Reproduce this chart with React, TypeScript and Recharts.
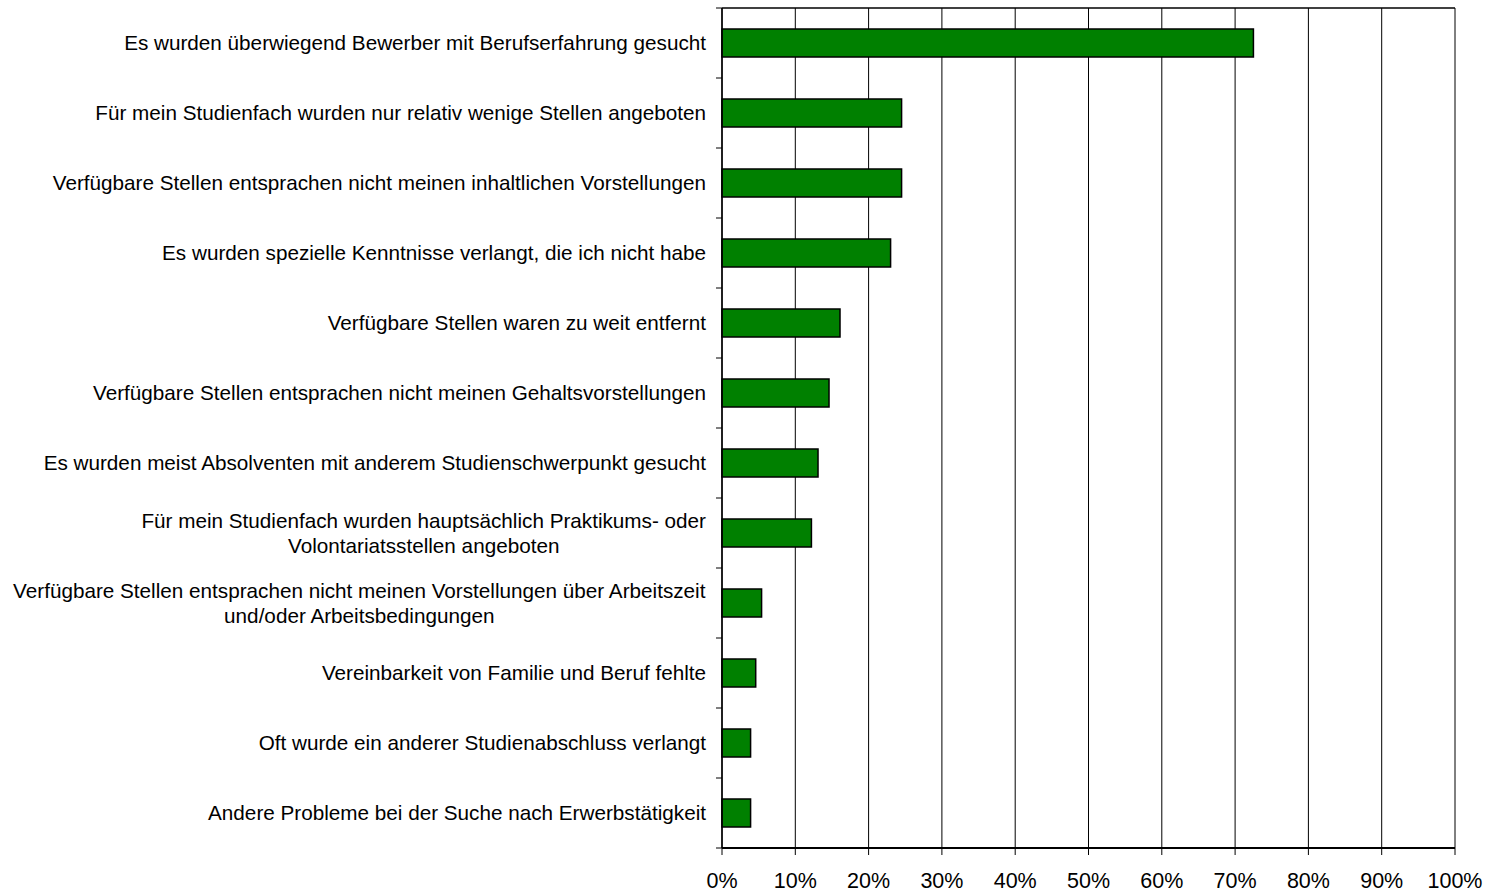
import React from "react";
import { BarChart, Bar, XAxis, YAxis, CartesianGrid } from "recharts";

const categories: string[] = [
  "Es wurden überwiegend Bewerber mit Berufserfahrung gesucht",
  "Für mein Studienfach wurden nur relativ wenige Stellen angeboten",
  "Verfügbare Stellen entsprachen nicht meinen inhaltlichen Vorstellungen",
  "Es wurden spezielle Kenntnisse verlangt, die ich nicht habe",
  "Verfügbare Stellen waren zu weit entfernt",
  "Verfügbare Stellen entsprachen nicht meinen Gehaltsvorstellungen",
  "Es wurden meist Absolventen mit anderem Studienschwerpunkt gesucht",
  "Für mein Studienfach wurden hauptsächlich Praktikums- oder\nVolontariatsstellen angeboten",
  "Verfügbare Stellen entsprachen nicht meinen Vorstellungen über Arbeitszeit\nund/oder Arbeitsbedingungen",
  "Vereinbarkeit von Familie und Beruf fehlte",
  "Oft wurde ein anderer Studienabschluss verlangt",
  "Andere Probleme bei der Suche nach Erwerbstätigkeit",
];

const values: number[] = [72.5, 24.5, 24.5, 23.0, 16.1, 14.6, 13.1, 12.2, 5.4, 4.6, 3.9, 3.9];

const xTicks: number[] = [0, 10, 20, 30, 40, 50, 60, 70, 80, 90, 100];

const data = categories.map((label, i) => ({ label, value: values[i] }));

const W = 1490;
const H = 892;
const TOP_AXIS_H = 1;
const MARGIN = { top: 7, right: 35, bottom: 0, left: 0 };
const YAXIS_W = 722;
const XAXIS_H = 44;
const FONT = '"Liberation Sans", Arial, Helvetica, sans-serif';
const LABEL_SIZE = 20.7;
const AXIS_X = MARGIN.left + YAXIS_W;
const BAND = (H - MARGIN.top - TOP_AXIS_H - MARGIN.bottom - XAXIS_H) / categories.length;

let ctx: CanvasRenderingContext2D | null = null;
function measure(text: string): number {
  if (!ctx) {
    const c = document.createElement("canvas");
    ctx = c.getContext("2d");
  }
  if (!ctx) return text.length * LABEL_SIZE * 0.5;
  ctx.font = `${LABEL_SIZE}px ${FONT}`;
  return ctx.measureText(text).width;
}

const CategoryTick = (props: any) => {
  const { y, payload, index } = props;
  const lines: string[] = String(payload.value).split("\n");
  const right = AXIS_X - 16;
  const maxW = Math.max(...lines.map(measure));
  const cx = right - maxW / 2;
  const lh = 25.5;
  const startY = y - ((lines.length - 1) * lh) / 2;
  const isLast = index === categories.length - 1;
  const multi = lines.length > 1;
  return (
    <g>
      <line x1={AXIS_X - 6} x2={AXIS_X} y1={y - BAND / 2} y2={y - BAND / 2} stroke="#000" strokeWidth={1} />
      {isLast && (
        <line x1={AXIS_X - 6} x2={AXIS_X} y1={y + BAND / 2} y2={y + BAND / 2} stroke="#000" strokeWidth={1} />
      )}
      <text
        x={multi ? cx : right}
        y={startY}
        textAnchor={multi ? "middle" : "end"}
        fontFamily={FONT}
        fontSize={LABEL_SIZE}
        fill="#000"
      >
        {lines.map((ln, i) => (
          <tspan key={i} x={multi ? cx : right} y={startY + i * lh} dy="0.355em">
            {ln}
          </tspan>
        ))}
      </text>
    </g>
  );
};

export default function App() {
  return (
    <div style={{ position: "absolute", left: 0, top: 0, width: W, height: H, background: "#fff" }}>
      <BarChart width={W} height={H} data={data} layout="vertical" margin={MARGIN}>
        <CartesianGrid horizontal={false} vertical={true} stroke="#000" strokeWidth={1} />
        <XAxis
          xAxisId="top"
          orientation="top"
          type="number"
          dataKey="value"
          domain={[0, 100]}
          ticks={xTicks}
          height={TOP_AXIS_H}
          axisLine={{ stroke: "#000", strokeWidth: 1.5 }}
          tick={false}
          tickLine={false}
        />
        <XAxis
          type="number"
          dataKey="value"
          domain={[0, 100]}
          ticks={xTicks}
          interval={0}
          tickFormatter={(v: number) => `${v}%`}
          height={XAXIS_H}
          axisLine={{ stroke: "#000", strokeWidth: 2 }}
          tickLine={{ stroke: "#000", strokeWidth: 1 }}
          tickSize={7}
          tickMargin={18}
          tick={{ fill: "#000", fontSize: 21.5, fontFamily: FONT }}
        />
        <YAxis
          type="category"
          dataKey="label"
          width={YAXIS_W}
          interval={0}
          axisLine={{ stroke: "#000", strokeWidth: 1.5 }}
          tickLine={false}
          tickSize={0}
          tickMargin={16}
          tick={<CategoryTick />}
        />
        <Bar
          dataKey="value"
          fill="#008000"
          stroke="#000"
          strokeWidth={1.5}
          barSize={28}
          isAnimationActive={false}
        />
      </BarChart>
    </div>
  );
}
